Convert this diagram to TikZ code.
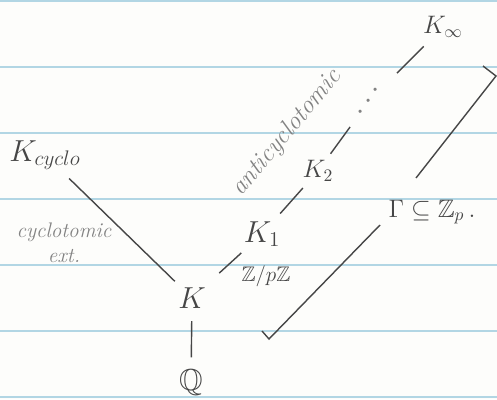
\documentclass[tikz,border=0pt]{standalone}
\usepackage{amssymb}
\definecolor{ink}{RGB}{70,70,70}
\definecolor{pencil}{RGB}{130,130,130}
\definecolor{ruling}{RGB}{178,214,228}
\definecolor{paper}{RGB}{253,253,251}
\begin{document}
\begin{tikzpicture}[x=0.02cm, y=-0.02cm,
  fld/.style={font=\LARGE, text=ink, inner sep=2pt},
  note/.style={font=\large\itshape, text=pencil, align=center, inner sep=0pt},
  ext/.style={draw=ink, line width=0.8pt}
]
  \useasboundingbox[fill=paper] (0,0) rectangle (497,399);
  \foreach \i in {0,...,6}
    \draw[ruling, line width=0.9pt] (0,{1+66*\i}) -- (497,{1+66*\i});

  \node[fld] (Q)    at (191,383) {$\mathbb{Q}$};
  \node[fld] (K)    at (192,298) {$K$};
  \node[fld] (Kcyc) at (45,155)  {$K_{cyclo}$};
  \node[fld] (K1)   at (262,234) {$K_1$};
  \node[fld, font=\Large] (K2) at (318,171) {$K_2$};
  \node[fld, text=pencil, rotate=56] (dots) at (369,101) {$\cdots$};
  \node[fld, font=\Large] (Kinf) at (443,27) {$K_\infty$};

  \node[note] (cyc)  at (64,243) {cyclotomic\\ext.};
  \node[note, font=\Large\itshape, rotate=50] (anti) at (287,133) {anticyclotomic};
  \node[fld, font=\large] (zpz) at (266,276) {$\mathbb{Z}/p\mathbb{Z}$};
  \node[fld, font=\Large] (gam) at (432,212) {$\Gamma \subseteq \mathbb{Z}_p\,.$};

  \draw[ext, shorten <=5pt, shorten >=5pt] (K) -- (Q);
  \draw[ext, shorten <=4pt, shorten >=2pt] (Kcyc) -- (K);
  \draw[ext, shorten <=9pt, shorten >=2pt] (K) -- (K1);
  \draw[ext, shorten <=3pt, shorten >=2pt] (K1) -- (K2);
  \draw[ext, shorten <=2pt, shorten >=6pt] (K2) -- (dots);
  \draw[ext, shorten <=10pt, shorten >=4pt] (dots) -- (Kinf);

  \coordinate (br1) at (483,66);
  \coordinate (br2) at (496,76);
  \coordinate (br3) at (416,178);
  \coordinate (br4) at (380,225);
  \coordinate (br5) at (269,339);
  \coordinate (br6) at (262,331);
  \draw[ext] (br1) -- (br2) -- (br3);
  \draw[ext] (br4) -- (br5) -- (br6);
\end{tikzpicture}
\end{document}
